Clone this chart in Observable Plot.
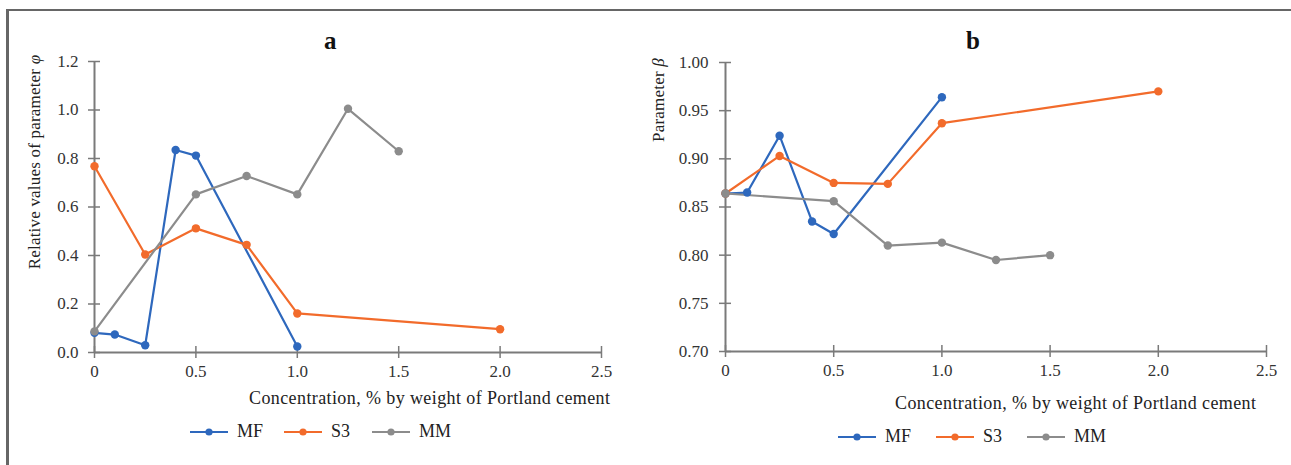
<!DOCTYPE html>
<html>
<head>
<meta charset="utf-8">
<script src="https://cdn.jsdelivr.net/npm/d3@7"></script>
<script src="https://cdn.jsdelivr.net/npm/@observablehq/plot@0.6"></script>
<style>
  html, body { margin: 0; padding: 0; background: #fff; }
  #fig { position: relative; width: 1291px; height: 465px; overflow: hidden; font-family: "Liberation Serif", "DejaVu Serif", serif; color: #333; }
  #fig svg { position: absolute; top: 0; overflow: visible; }
  #fig svg text { font-family: "Liberation Serif", "DejaVu Serif", serif !important; }
  .frameTop { position: absolute; left: 7px; top: 9px; right: 0; height: 2px; background: #666; }
  .frameLeft { position: absolute; left: 6px; top: 9px; bottom: 0; width: 3px; background: #666; }
  .lbl { position: absolute; font-size: 18px; letter-spacing: 0.4px; white-space: nowrap; color: #222; }
  .title { position: absolute; font-size: 25px; font-weight: bold; color: #111; }
  .ylab { position: absolute; font-size: 17px; letter-spacing: 0.2px; white-space: nowrap; transform: rotate(-90deg); transform-origin: center; color: #222; }
  .leg { position: absolute; font-size: 18px; display: flex; align-items: center; color: #222; }
</style>
</head>
<body>
<div id="fig">
  <div class="frameTop"></div>
  <div class="frameLeft"></div>
</div>
<script>
// ---------------- Data ----------------
const seriesNames = ["MF", "S3", "MM"];
const seriesColors = ["#2e68bd", "#f26b2b", "#8c8c8c"];

// Panel a: relative values of parameter φ
const aMF_x = [0, 0.1, 0.25, 0.4, 0.5, 1.0];
const aMF_y = [0.081, 0.074, 0.03, 0.835, 0.812, 0.025];
const aS3_x = [0, 0.25, 0.5, 0.75, 1.0, 2.0];
const aS3_y = [0.768, 0.404, 0.512, 0.444, 0.161, 0.096];
const aMM_x = [0, 0.5, 0.75, 1.0, 1.25, 1.5];
const aMM_y = [0.087, 0.652, 0.728, 0.652, 1.005, 0.830];

// Panel b: parameter β
const bMF_x = [0, 0.1, 0.25, 0.4, 0.5, 1.0];
const bMF_y = [0.864, 0.865, 0.924, 0.835, 0.822, 0.964];
const bS3_x = [0, 0.25, 0.5, 0.75, 1.0, 2.0];
const bS3_y = [0.864, 0.903, 0.875, 0.874, 0.937, 0.970];
const bMM_x = [0, 0.5, 0.75, 1.0, 1.25, 1.5];
const bMM_y = [0.864, 0.856, 0.810, 0.813, 0.795, 0.800];

const xTicks = [0, 0.5, 1.0, 1.5, 2.0, 2.5];
const aYTicks = [0, 0.2, 0.4, 0.6, 0.8, 1.0, 1.2];
const bYTicks = [0.70, 0.75, 0.80, 0.85, 0.90, 0.95, 1.00];

const xLabel = "Concentration, % by weight of Portland cement";
const aYLabel = "Relative values of parameter ";
const aYSym = "φ";
const bYLabel = "Parameter ";
const bYSym = "β";

// ---------------- Build ----------------
function rows(xs, ys, s) { return xs.map((x, i) => ({x, y: ys[i], s})); }
const aData = [...rows(aMF_x, aMF_y, "MF"), ...rows(aS3_x, aS3_y, "S3"), ...rows(aMM_x, aMM_y, "MM")];
const bData = [...rows(bMF_x, bMF_y, "MF"), ...rows(bS3_x, bS3_y, "S3"), ...rows(bMM_x, bMM_y, "MM")];

const axisColor = "#7a7a7a";
const serif = "Liberation Serif, DejaVu Serif, serif";
const xFmt = d => d === 0 ? "0" : d.toFixed(1);

function panel({data, width, height, mL, mR, mT, mB, yDomain, yTicks, yFmt, yPad}) {
  return Plot.plot({
    width, height,
    marginLeft: mL, marginRight: mR, marginTop: mT, marginBottom: mB,
    style: {fontFamily: serif, fontSize: "17px", color: "#333", background: "transparent", overflow: "visible"},
    x: {domain: [0, 2.5], label: null},
    y: {domain: yDomain, label: null},
    color: {domain: seriesNames, range: seriesColors},
    marks: [
      Plot.ruleY([yDomain[0]], {stroke: axisColor, strokeWidth: 2}),
      Plot.ruleX([0], {stroke: axisColor, strokeWidth: 2}),
      // cross ticks
      Plot.axisY(yTicks, {tickSize: 12, dx: 6, tickFormat: () => "", label: null, stroke: axisColor, strokeWidth: 1.5, strokeOpacity: 1}),
      Plot.axisX(xTicks, {tickSize: 12, dy: -6, tickFormat: () => "", label: null, stroke: axisColor, strokeWidth: 1.5, strokeOpacity: 1}),
      Plot.axisY(yTicks, {tickSize: 0, tickPadding: yPad, tickFormat: yFmt, label: null, fill: "#333", fontSize: 17, fontFamily: serif}),
      Plot.axisX(xTicks, {tickSize: 0, tickPadding: 12, tickFormat: xFmt, label: null, fill: "#333", fontSize: 17, fontFamily: serif}),
      Plot.line(data, {x: "x", y: "y", z: "s", stroke: "s", strokeWidth: 2.2}),
      Plot.dot(data, {x: "x", y: "y", fill: "s", r: 4.2})
    ]
  });
}

const fig = document.getElementById("fig");

const a = panel({data: aData, width: 645, height: 400, mL: 94, mR: 44, mT: 61, mB: 48,
  yDomain: [0, 1.2], yTicks: aYTicks, yFmt: d3.format(".1f"), yPad: 16});
a.style.left = "0px";
fig.appendChild(a);

const b = panel({data: bData, width: 651, height: 400, mL: 85, mR: 25, mT: 62, mB: 49,
  yDomain: [0.70, 1.00], yTicks: bYTicks, yFmt: d3.format(".2f"), yPad: 17});
b.style.left = "640px";
fig.appendChild(b);

function addDiv(cls, html, style) {
  const d = document.createElement("div");
  d.className = cls; d.innerHTML = html;
  Object.assign(d.style, style);
  fig.appendChild(d);
  return d;
}

// titles
addDiv("title", "a", {left: "324px", top: "27px"});
addDiv("title", "b", {left: "966px", top: "27px"});

// x labels
addDiv("lbl", xLabel, {left: "249px", top: "388px"});
addDiv("lbl", xLabel, {left: "895px", top: "393px"});

// y labels (rotated)
const ya = addDiv("ylab", aYLabel + "<i>" + aYSym + "</i>", {});
ya.style.left = (35 - ya.offsetWidth / 2) + "px";
ya.style.top = (162 - ya.offsetHeight / 2) + "px";
const yb = addDiv("ylab", bYLabel + "<i>" + bYSym + "</i>", {});
yb.style.left = (659 - yb.offsetWidth / 2) + "px";
yb.style.top = (100 - yb.offsetHeight / 2) + "px";

// legends
function legend(top, positions) {
  seriesNames.forEach((name, i) => {
    const item = document.createElement("div");
    item.className = "leg";
    item.style.left = positions[i] + "px";
    item.style.top = top + "px";
    item.innerHTML = `<svg width="40" height="10" style="position:static;margin-right:7px"><line x1="0" y1="5" x2="38" y2="5" stroke="${seriesColors[i]}" stroke-width="2.2"/><circle cx="19" cy="5" r="3.6" fill="${seriesColors[i]}"/></svg><span>${name}</span>`;
    fig.appendChild(item);
  });
}
legend(421, [190, 284, 372]);
legend(426, [838, 936, 1027]);
</script>
</body>
</html>
